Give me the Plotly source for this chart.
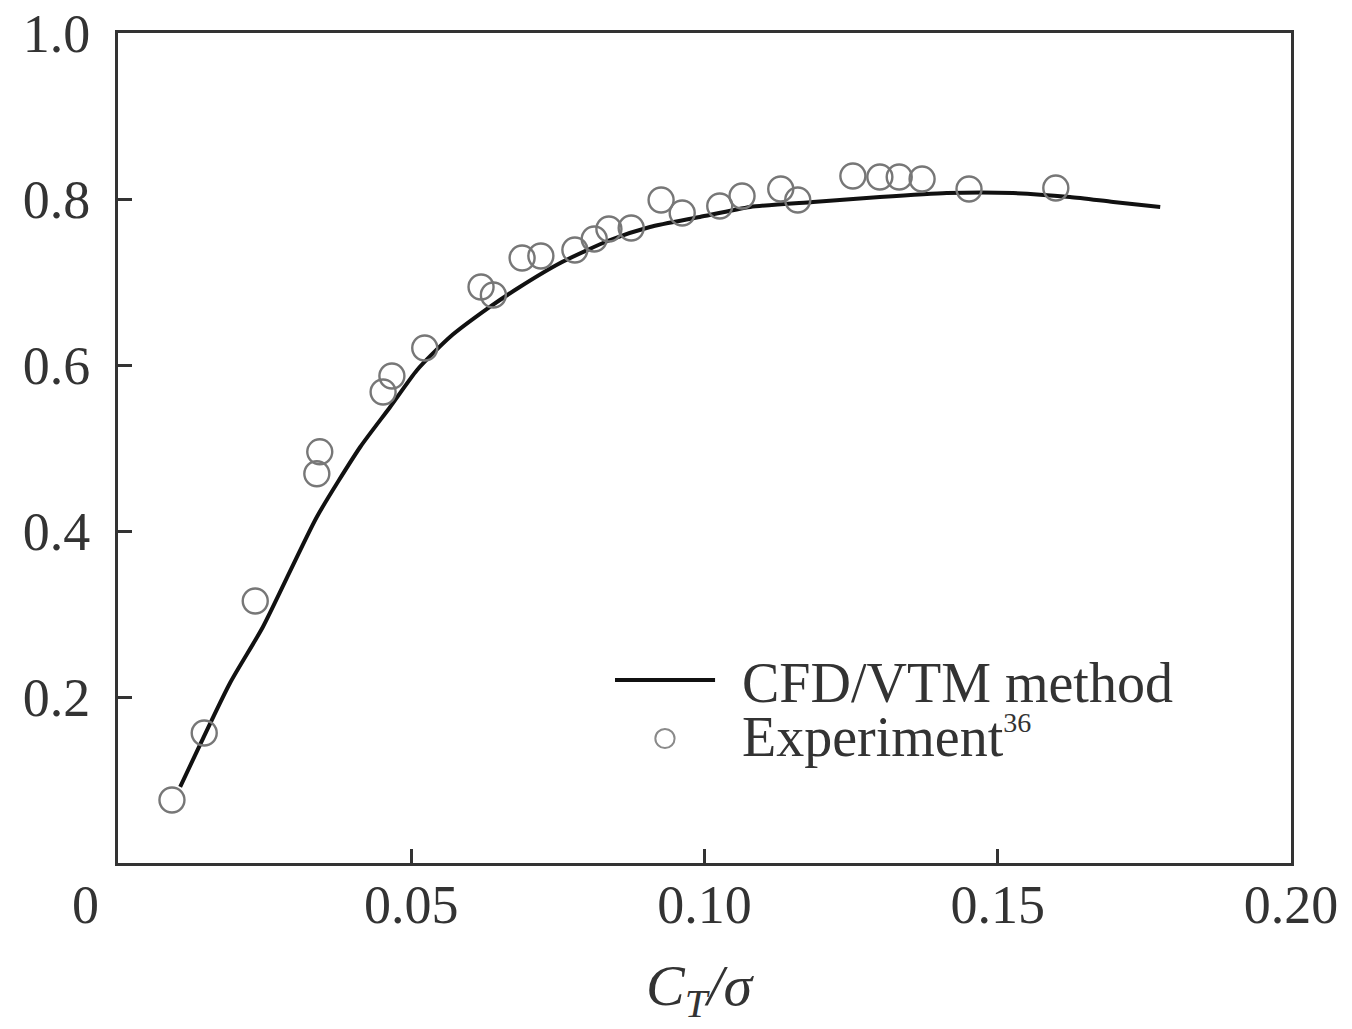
import plotly.graph_objects as go

# CFD/VTM method curve
cfd_x = [0.0106, 0.0191, 0.0247, 0.0339, 0.0413, 0.0464, 0.0510, 0.0566, 0.0634, 0.0685,
         0.0754, 0.0839, 0.0907, 0.0992, 0.1078, 0.1185, 0.1299, 0.1413, 0.1526, 0.1623,
         0.1697, 0.1777]
cfd_y = [0.0916, 0.2169, 0.2843, 0.4169, 0.5012, 0.5494, 0.5940, 0.6337, 0.6699, 0.6940,
         0.7229, 0.7506, 0.7663, 0.7783, 0.7904, 0.7964, 0.8024, 0.8072, 0.8072, 0.8024,
         0.7964, 0.7904]

# Experiment points
exp_x = [0.0092, 0.0147, 0.0234, 0.0339, 0.0344, 0.0452, 0.0467, 0.0523, 0.0619, 0.0640,
         0.0689, 0.0721, 0.0779, 0.0812, 0.0837, 0.0875, 0.0926, 0.0962, 0.1026, 0.1064,
         0.1130, 0.1159, 0.1253, 0.1299, 0.1332, 0.1371, 0.1451, 0.1599]
exp_y = [0.0759, 0.1566, 0.3157, 0.4689, 0.4954, 0.5675, 0.5867, 0.6205, 0.6940, 0.6843,
         0.7289, 0.7313, 0.7386, 0.7518, 0.7639, 0.7651, 0.7988, 0.7831, 0.7916, 0.8036,
         0.8120, 0.7988, 0.8277, 0.8265, 0.8265, 0.8241, 0.8120, 0.8133]

x_ticks = [0.05, 0.10, 0.15, 0.20]
x_ticktext = ["0.05", "0.10", "0.15", "0.20"]
y_ticks = [0.2, 0.4, 0.6, 0.8, 1.0]
y_ticktext = ["0.2", "0.4", "0.6", "0.8", "1.0"]

FONT = "Liberation Serif"
AX = "#333333"

fig = go.Figure()
fig.add_trace(go.Scatter(x=cfd_x, y=cfd_y, mode="lines", name="CFD/VTM method",
                         line=dict(color="#111111", width=4, shape="spline", smoothing=0.6),
                         showlegend=False))
fig.add_trace(go.Scatter(x=exp_x, y=exp_y, mode="markers", name="Experiment",
                         marker=dict(symbol="circle-open", size=25, color="#777777",
                                     line=dict(width=2.4, color="#777777")),
                         showlegend=False))

axis_common = dict(showline=True, linewidth=3, linecolor=AX, mirror=True,
                   ticks="inside", ticklen=14, tickwidth=3, tickcolor=AX,
                   showgrid=False, zeroline=False, automargin=False,
                   tickfont=dict(family=FONT, size=54, color="#333333"))

fig.update_xaxes(range=[0, 0.2], tickvals=x_ticks, ticktext=x_ticktext,
                 ticklabelstandoff=-8, **axis_common)
fig.update_yaxes(range=[0, 1.0], tickvals=y_ticks, ticktext=y_ticktext,
                 ticklabelstandoff=14, **axis_common)

# manual legend
lx0, lx1, ly1 = 0.4237, 0.5090, 0.2205
fig.add_shape(type="line", xref="paper", yref="paper", x0=lx0, x1=lx1, y0=ly1, y1=ly1,
              line=dict(color="#111111", width=4))
cx, cy = 0.4663, 0.150
fig.add_shape(type="circle", xref="paper", yref="paper",
              x0=cx - 0.0082, x1=cx + 0.0082, y0=cy - 0.0115, y1=cy + 0.0115,
              line=dict(color="#8a8a8a", width=2))
fig.add_annotation(xref="paper", yref="paper", x=0.5303, y=0.2169, xanchor="left",
                   yanchor="middle", showarrow=False, text="CFD/VTM method",
                   font=dict(family=FONT, size=56, color="#333333"))
fig.add_annotation(xref="paper", yref="paper", x=0.5303, y=0.152, xanchor="left",
                   yanchor="middle", showarrow=False,
                   text="Experiment<sup><span style='font-size:28px'>36</span></sup>",
                   font=dict(family=FONT, size=56, color="#333333"))

# origin label
fig.add_annotation(xref="x", yref="paper", x=0, y=0, xshift=-33, yshift=-42,
                   showarrow=False, text="0", xanchor="center", yanchor="middle",
                   font=dict(family=FONT, size=54, color="#333333"))
# x-axis title
fig.add_annotation(xref="paper", yref="paper", x=0.496, y=-0.153, showarrow=False,
                   xanchor="center", yanchor="middle",
                   text="<i>C</i><sub><i>T</i></sub><i>/σ</i>",
                   font=dict(family=FONT, size=58, color="#333333"))
# y-axis title (mostly cut off at left edge)
fig.add_annotation(xref="paper", yref="paper", x=-0.118, y=0.52, xshift=-28,
                   showarrow=False, textangle=-90, xanchor="center", yanchor="middle",
                   text="<i>FM</i>", font=dict(family=FONT, size=52, color="#333333"))

fig.update_layout(width=1352, height=1029, plot_bgcolor="white", paper_bgcolor="white",
                  margin=dict(l=118, r=61, t=33, b=166, autoexpand=False), showlegend=False)

fig.write_html("out.html")
